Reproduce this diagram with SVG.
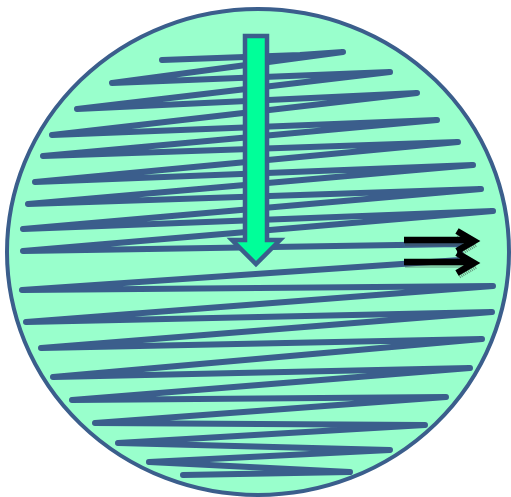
<svg xmlns="http://www.w3.org/2000/svg" width="511" height="497" viewBox="0 0 511 497">
<style>
.disc{fill:#99FFCC;stroke:#3B5E8C;stroke-width:4}
.zig{fill:none;stroke:#3B5E8C;stroke-width:6;stroke-linejoin:round;stroke-linecap:round}
.down{fill:#00FF99;stroke:#3B5E8C;stroke-width:4.5;stroke-linejoin:miter}
.rarrow{fill:none;stroke:#000;stroke-width:6.5;stroke-linejoin:miter}
.rshadow{fill:none;stroke:#3a4a40;stroke-width:6;opacity:0.55;stroke-dasharray:1 1}
</style>
<g id="disc">
<ellipse class="disc" cx="258" cy="252" rx="251" ry="243"/>
</g>
<g id="zigzag">
<polyline class="zig" points="162,60 300,55 343,52 112,83 390,72 77,109 417,93 52,135 437,120 43,156 458,142 35,182 473,165 28,204 481,189 23,229 493,211 23,251 460,244 460,260 22,290 493,286 26,322 492,312 41,348 482,339 53,377 470,368 72,400 446,397 95,423 425,425 118,443 390,450 149,462 350,472 183,475"/>
</g>
<g id="down-arrow">
<path class="down" d="M245,36 H267 V240 H280 L256,264 L232,240 H245 Z"/>
</g>
<g id="connectors">
<g id="right-arrows">
<path class="rshadow" transform="translate(1.5,3)" d="M404,240 H472 M457,231 L474,241 L457,251 M404,262 H472 M457,253 L474,263 L457,273"/>
<path class="rarrow" d="M404,240 H472 M457,231 L474,241 L457,251"/>
<path class="rarrow" d="M404,262 H472 M457,253 L474,263 L457,273"/>
</g>
</g>
</svg>
